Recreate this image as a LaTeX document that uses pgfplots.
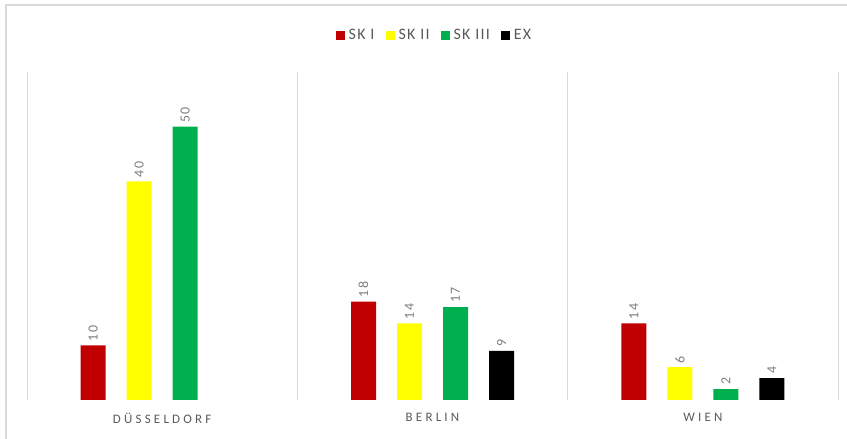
\documentclass[border=0pt]{standalone}
\usepackage{fontspec}
\setmainfont{Carlito}
\usepackage{pgfplots}
\pgfplotsset{compat=1.18}

\definecolor{skI}{HTML}{C00000}
\definecolor{skII}{HTML}{FFFF00}
\definecolor{skIII}{HTML}{00B050}
\definecolor{ex}{HTML}{000000}
\definecolor{gridc}{HTML}{D9D9D9}
\definecolor{txt}{HTML}{595959}
\definecolor{lbl}{HTML}{7F7F7F}

\begin{document}
\begin{tikzpicture}
\begin{axis}[
  scale only axis,
  width=811bp, height=328bp,
  ybar=21bp, bar width=25bp,
  xmin=-0.5, xmax=2.5,
  ymin=0, ymax=60,
  xtick={0,1,2},
  xticklabels={DÜSSELDORF,BERLIN,WIEN},
  major tick length=0pt, minor tick length=0pt,
  minor xtick={-0.5,0.5,1.5,2.5},
  xminorgrids=true,
  minor grid style={gridc, line width=0.8bp},
  ytick=\empty,
  axis line style={draw=none},
  /pgf/number format/assume math mode=true,
  xticklabel style={font=\fontsize{13}{13}\selectfont\addfontfeatures{LetterSpace=25},
    text=txt, anchor=north, yshift=-10bp},
  nodes near coords,
  every node near coord/.append style={rotate=90, anchor=west, text=lbl,
    font=\fontsize{14}{14}\selectfont\addfontfeatures{LetterSpace=10}, inner sep=4bp},
  legend columns=4,
  legend style={draw=none, at={(rel axis cs:0.5,1)}, anchor=center,
    xshift=3bp, yshift=37bp,
    nodes={font=\fontsize{16}{16}\selectfont\addfontfeatures{LetterSpace=8}, text=txt, inner xsep=3.5bp},
    /tikz/every even column/.append style={column sep=8bp}},
  legend image code/.code={\fill[#1] (0bp,-4.5bp) rectangle (9bp,4.5bp);},
]
\addplot[fill=skI, draw=none] coordinates {(0,10) (1,18) (2,14)};
\addplot[fill=skII, draw=none] coordinates {(0,40) (1,14) (2,6)};
\addplot[fill=skIII, draw=none] coordinates {(0,50) (1,17) (2,2)};
\addplot[fill=ex, draw=none] coordinates {(1,9) (2,4)};
\legend{SK I, SK II, SK III, EX}
\draw[gridc, line width=0.8bp] (rel axis cs:0,0) -- (rel axis cs:1,0);
\end{axis}
% outer chart frame
\draw[gridc, line width=1.2bp] (-21bp,-60bp) rectangle (840bp,395bp);
\pgfresetboundingbox
\useasboundingbox (-27bp,-39bp) rectangle (820bp,400bp);
\end{tikzpicture}
\end{document}
